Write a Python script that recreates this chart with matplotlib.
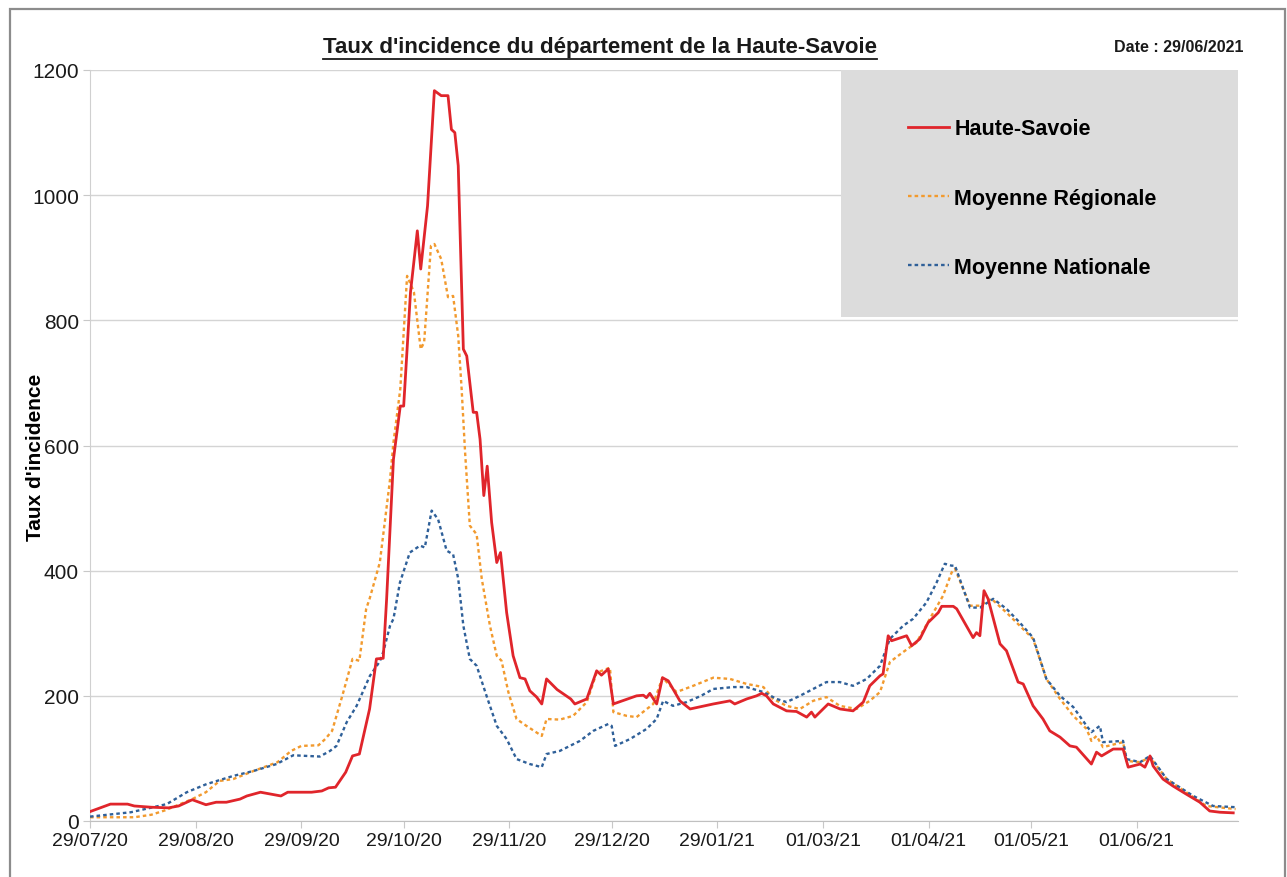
import datetime as dt
import matplotlib
matplotlib.use("Agg")
import matplotlib.pyplot as plt
import matplotlib.dates as mdates
from matplotlib.patches import Rectangle
from matplotlib.lines import Line2D

plt.rcParams['font.family'] = ['Liberation Sans', 'DejaVu Sans']

# jours depuis le 29/07/2020
START = dt.date(2020, 7, 29)

hs_days = [0, 6, 11, 13, 18, 23, 26, 30, 34, 37, 40, 44, 46, 50, 56, 58, 65, 68, 70, 72,
           75, 77, 79, 80, 82, 84, 86, 87, 89, 91, 92, 94, 96, 97, 99, 101, 103, 105, 106,
           107, 108, 109.5, 110.5, 112.4, 113.4, 114.4, 115.5, 116.5, 117.8, 119.3, 120.4,
           122.2, 124.1, 126.1, 127.6, 129, 131, 132.5, 133.9, 137, 141, 142.2, 145.7,
           148.6, 150, 152, 153.5, 160.3, 162.3, 163.2, 164.2, 166.2, 167.9, 169.6, 173,
           176, 182.8, 187.7, 189.1, 192.6, 195.5, 197, 198.4, 200.4, 204.3, 207.2, 210.2,
           211.6, 212.6, 216.5, 220, 223.8, 226.8, 228.7, 231.7, 232.6, 234.1, 235.1,
           239.5, 241, 243.4, 245.8, 248.8, 249.8, 253.2, 254.2, 259, 260, 261, 262.2,
           263.4, 266.9, 268.8, 272.2, 273.7, 276.6, 279.5, 281.5, 284.5, 287.4, 289.3,
           293.7, 295.2, 296.7, 300.1, 303, 304.5, 308, 309.4, 310.9, 311.8, 314.7, 317.6,
           321.5, 325.5, 328.4, 331.4, 335.3]
hs_vals = [15, 27, 27, 24, 22, 21, 24, 34, 26, 30, 30, 35, 40, 46, 40, 46, 46, 48, 53, 54,
           78, 104, 107, 131, 179, 259, 260, 355, 578, 663, 663, 845, 943, 882, 983, 1167,
           1159, 1159, 1105, 1100, 1047, 754, 743, 653, 653, 610, 520, 567, 477, 413, 429,
           333, 264, 229, 227, 208, 198, 187, 227, 210, 195, 187, 195,
           240, 233, 243, 187, 200, 201, 197, 204, 187, 229, 224, 192,
           179, 187, 192, 187, 195, 200, 204, 200, 187, 176, 175, 166,
           174, 166, 187, 179, 176, 190, 216, 232, 235, 296, 288,
           296, 280, 291, 317, 333, 343, 343, 339, 293, 301, 296, 368,
           355, 283, 272, 222, 219, 184, 163, 144, 134, 120, 118,
           91, 110, 104, 115, 115, 86, 91, 86, 104, 88, 67, 56,
           43, 30, 16, 14, 13]

reg_days = [0, 13, 18, 22, 26, 30, 34, 38, 42, 48, 55, 59, 62, 67, 69, 71, 74, 77, 79, 81,
            82, 85, 88, 89, 91, 93, 95, 97, 98, 100, 101, 103, 105, 106.5, 108, 109, 110,
            111.4, 113.4, 114.9, 117.3, 119.3, 120.7, 122.7, 125.1, 128, 132.5, 133.9,
            137.8, 141.7, 145.7, 148.6, 152.5, 153.5, 157.4, 160.3, 165.2, 167.9, 172,
            176.9, 182.8, 187.7, 192.6, 197.5, 200.4, 204.3, 208.2, 212.1, 216, 219.9,
            224.8, 228.7, 231.7, 234.6, 238.5, 242.4, 246.3, 250.2, 252.7, 253.7, 258.1,
            261, 264.4, 268.8, 272.7, 276.6, 280.5, 284.5, 288.4, 292.3, 293.7, 295.2,
            297.1, 303, 304, 308, 310.9, 315.8, 321.5, 327.4, 336]
reg_vals = [6, 6, 10, 17, 26, 35, 46, 64, 67, 80, 94, 112, 120, 121, 131, 144, 200, 259, 256,
            339, 355, 413, 546, 605, 690, 871, 845, 754, 765, 919, 922, 898, 837, 839, 775,
            690, 590, 472, 458, 387, 312, 264, 256, 206, 163, 152, 136, 163,
            162, 168, 190, 237, 245, 174, 168, 166, 187, 229, 206,
            216, 229, 227, 219, 214, 195, 184, 179, 192, 198, 184,
            179, 192, 206, 254, 270, 285, 323, 360, 397, 403, 344,
            344, 355, 333, 312, 291, 227, 195, 168, 147, 128, 136,
            118, 126, 96, 94, 102, 67, 46, 24, 19]

nat_days = [0, 12, 18.5, 22.5, 28.4, 34.2, 42, 48, 54.7, 59.6, 63.5, 67.4, 70.4, 72.3, 75.3,
            78.2, 82.1, 85, 86, 88, 89, 90.9, 93.8, 96.8, 98.2, 100.2, 102.1, 104.6, 106.5,
            108, 109.5, 111.4, 113.4, 116.3, 119.3, 122.2, 125.1, 129, 132.5, 133.9, 137.8,
            143.7, 147.6, 152, 153, 154, 158.4, 163.2, 166.2, 168.1, 171, 175, 179.2, 182.8,
            188.7, 192.6, 197.5, 201.4, 204.3, 208.2, 212.1, 216, 219.9, 223.8, 227.8,
            231.7, 234.6, 238.5, 241.4, 245.3, 248.3, 250.7, 252.7, 253.7, 258.1, 261,
            264.9, 268.8, 272.7, 276.6, 280.5, 284.5, 288.4, 292.3, 293.7, 296.2, 297.1,
            303, 304, 308, 310.9, 315.8, 323.6, 329.4, 336.2]
nat_vals = [7, 14, 22, 27, 46, 59, 72, 80, 91, 105, 104, 103, 112, 120, 158,
            184, 232, 255, 270, 312, 323, 381, 429, 440, 437, 496, 482, 432, 426,
            387, 312, 259, 248, 200, 152, 131, 99, 91, 86, 107, 112,
            128, 144, 155, 152, 120, 131, 147, 163, 192, 184, 190, 200, 211,
            214, 214, 206, 195, 190, 200, 211, 222, 222, 216, 227,
            248, 291, 312, 323, 349, 381, 411, 408, 408, 341, 341,
            355, 339, 317, 293, 227, 200, 182, 152, 142, 152, 126,
            128, 99, 94, 104, 67, 40, 24, 22]

tick_dates = ['29/07/20', '29/08/20', '29/09/20', '29/10/20', '29/11/20', '29/12/20',
              '29/01/21', '01/03/21', '01/04/21', '01/05/21', '01/06/21']


def to_num(days):
    base = mdates.date2num(START)
    return [base + d for d in days]


W, H = 1287, 878
fig = plt.figure(figsize=(W / 100, H / 100), dpi=100)
ax = fig.add_axes([90 / W, (H - 822) / H, (1238 - 90) / W, (822 - 71) / H])

# cadre gris autour de la figure
fig.patches.append(Rectangle((10 / W, -0.05), (1285 - 10) / W, (H - 10) / H + 0.05,
                             transform=fig.transFigure, fill=False,
                             edgecolor='#8c8c8c', lw=1.6))

ax.plot(to_num(hs_days), hs_vals, color='#e0252b', lw=2.0, label='Haute-Savoie', zorder=4)
ax.plot(to_num(reg_days), reg_vals, color='#f29a2e', lw=1.7, dashes=(1.5, 1.3),
        label='Moyenne Régionale', zorder=3)
ax.plot(to_num(nat_days), nat_vals, color='#2f6099', lw=1.7, dashes=(1.5, 1.3),
        label='Moyenne Nationale', zorder=3)

x0 = mdates.date2num(START)
ax.set_xlim(x0, x0 + 336.7)
ax.set_ylim(0, 1200)
ax.set_yticks(range(0, 1201, 200))
ax.set_xticks([mdates.date2num(dt.datetime.strptime(t, '%d/%m/%y')) for t in tick_dates])
ax.set_xticklabels(tick_dates)
ax.tick_params(axis='x', labelsize=14, length=5, color='#c8c8c8', pad=3, labelcolor='#1a1a1a')
ax.tick_params(axis='y', labelsize=15, length=5, color='#c8c8c8', pad=3, labelcolor='#1a1a1a')
ax.grid(axis='y', color='#d4d4d4', lw=1.0)
ax.set_axisbelow(True)
for s in ['top', 'right']:
    ax.spines[s].set_visible(False)
ax.spines['left'].set_color('#d0d0d0')
ax.spines['bottom'].set_color('#c0c0c0')

ax.set_ylabel("Taux d'incidence", fontsize=15, fontweight='bold')
ax.yaxis.set_label_coords(-0.039, 0.485)

# fond gris de la légende
ax.add_patch(Rectangle((0.654, 0.671), 0.346, 0.329, transform=ax.transAxes,
                       facecolor='#dcdcdc', edgecolor='none', zorder=5))
leg = ax.legend(loc='upper left', bbox_to_anchor=(0.7125, 0.936), frameon=False,
                prop={'size': 15.5, 'weight': 'bold'}, handlelength=1.9,
                handletextpad=0.25, labelspacing=2.25, borderpad=0, borderaxespad=0)
leg.set_zorder(6)

title = fig.text(600 / W, (H - 48) / H, "Taux d'incidence du département de la Haute-Savoie",
                 ha='center', va='center', fontsize=16, fontweight='bold', color='#1a1a1a')
fig.text(1243 / W, (H - 48) / H, "Date : 29/06/2021", ha='right', va='center',
         fontsize=11.5, fontweight='bold', color='#1a1a1a')

# soulignement du titre
fig.canvas.draw()
bb = title.get_window_extent().transformed(fig.transFigure.inverted())
fig.add_artist(Line2D([bb.x0, bb.x1], [bb.y0 - 0.002, bb.y0 - 0.002],
                      transform=fig.transFigure, color='#1a1a1a', lw=1.3))

fig.savefig('out.png', dpi=100)
